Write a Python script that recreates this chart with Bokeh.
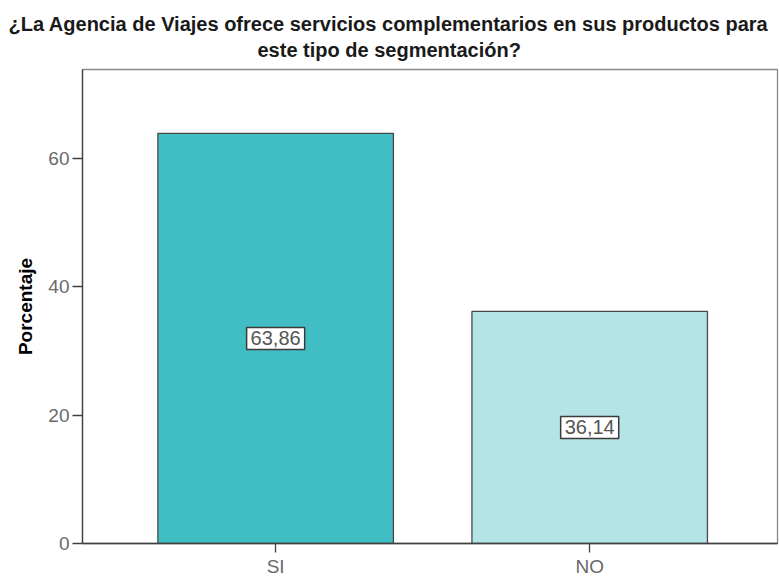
from bokeh.plotting import figure
from bokeh.models import Range1d, FixedTicker, ColumnDataSource, Label, Title
from bokeh.embed import file_html
from bokeh.resources import INLINE

categories = ["SI", "NO"]
values = [63.86, 36.14]
value_labels = ["63,86", "36,14"]
colors = ["#40bec3", "#b5e4e6"]
y_ticks = [0, 20, 40, 60]
title_lines = ["¿La Agencia de Viajes ofrece servicios complementarios en sus productos para",
               "este tipo de segmentación?"]

xs = list(range(len(categories)))
src = ColumnDataSource(dict(x=xs, top=values, color=colors))

FONT = "Liberation Sans"

p = figure(width=779, height=579, output_backend="svg", toolbar_location=None, title=None,
           x_range=Range1d(-0.615, 1.598), y_range=Range1d(0, 73.8),
           min_border_left=82, min_border_right=2, min_border_bottom=34, min_border_top=69)

t2 = Title(text=title_lines[1], align="left", text_font=FONT, text_font_size="20px",
           text_font_style="bold", text_color="#1a1a1a", standoff=18, offset=175)
t1 = Title(text=title_lines[0], align="left", text_font=FONT, text_font_size="20px",
           text_font_style="bold", text_color="#1a1a1a", standoff=-14, offset=-74)
p.add_layout(t2, "above")
p.add_layout(t1, "above")

p.vbar(x="x", top="top", width=0.75, bottom=0, fill_color="color",
       line_color="#484848", line_width=1.3, source=src)

for xi, v, lab in zip(xs, values, value_labels):
    p.add_layout(Label(x=xi, y=v / 2, text=lab, text_align="center",
                       text_baseline="middle", text_font_size="20px", text_font=FONT,
                       text_color="#555555", background_fill_color="white",
                       border_line_color="#3a3a3a", border_line_width=1.5, padding=4))

p.xgrid.visible = False
p.ygrid.visible = False
p.outline_line_color = "#888888"
p.outline_line_width = 1.3
p.background_fill_color = "white"

p.xaxis.ticker = FixedTicker(ticks=xs)
p.xaxis.major_label_overrides = {i: c for i, c in enumerate(categories)}
p.yaxis.ticker = FixedTicker(ticks=y_ticks)
for ax in (p.xaxis[0], p.yaxis[0]):
    ax.axis_line_color = "#404040"
    ax.axis_line_width = 1.3
    ax.major_tick_line_color = "#404040"
    ax.major_tick_line_width = 1.3
    ax.minor_tick_line_color = None
    ax.major_tick_in = 0
    ax.major_label_text_font = FONT
    ax.major_label_text_font_size = "19px"
    ax.major_label_text_color = "#6a6a6a"
p.yaxis.major_tick_out = 10
p.yaxis.major_label_standoff = 3
p.xaxis.major_tick_out = 9
p.xaxis.major_label_standoff = 3

p.yaxis.axis_label = "Porcentaje"
p.yaxis.axis_label_text_font = FONT
p.yaxis.axis_label_text_font_size = "19px"
p.yaxis.axis_label_text_font_style = "bold"
p.yaxis.axis_label_text_color = "#000000"
p.yaxis.axis_label_standoff = 9

open("out.html", "w").write(file_html(p, INLINE))
